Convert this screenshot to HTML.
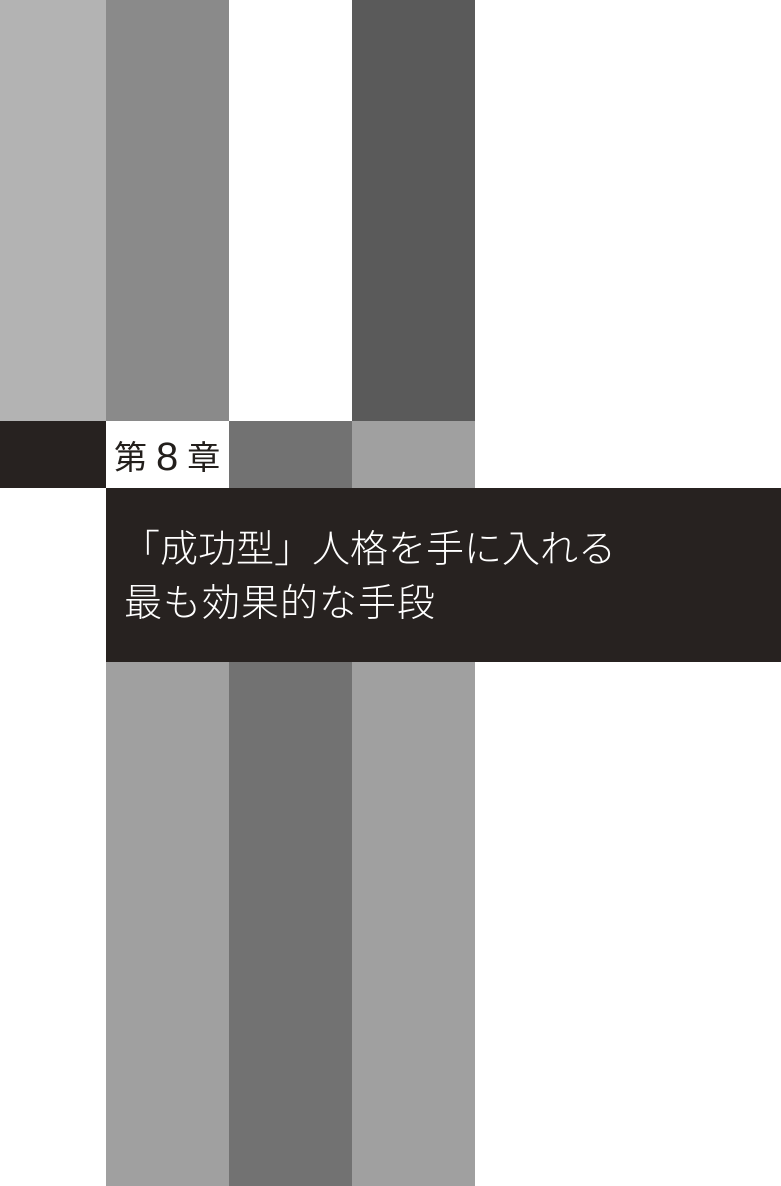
<!DOCTYPE html>
<html><head><meta charset="utf-8"><style>
html,body{margin:0;padding:0;background:#fff;}
#page{position:relative;width:781px;height:1186px;overflow:hidden;background:#fff;font-family:"Liberation Sans","Noto Sans CJK JP",sans-serif;}
.b{position:absolute;}
.t{position:absolute;white-space:nowrap;line-height:1;}
</style></head><body>
<div id="page">
<div class="b" style="left:0;top:0;width:106px;height:421px;background:#b3b3b3"></div>
<div class="b" style="left:106px;top:0;width:123px;height:421px;background:#8a8a8a"></div>
<div class="b" style="left:352px;top:0;width:123px;height:421px;background:#5a5a5a"></div>
<div class="b" style="left:0;top:421px;width:106px;height:67px;background:#272220"></div>
<div class="b" style="left:229px;top:421px;width:123px;height:67px;background:#727272"></div>
<div class="b" style="left:352px;top:421px;width:123px;height:67px;background:#a0a0a0"></div>
<div class="t" style="left:114px;top:436px;font-size:33px;color:#231f1c;">第<span style="font-size:40px;margin:0 9px 0 9px;position:relative;top:1px;font-weight:300">8</span>章</div>
<div class="b" style="left:106px;top:488px;width:675px;height:174px;background:#272220"></div>
<div class="t" style="left:122px;top:531px;font-size:38px;color:#fff;font-weight:300;">「成功型」人格を手に入れる</div>
<div class="t" style="left:124px;top:585px;font-size:38px;color:#fff;font-weight:300;letter-spacing:1px;">最も効果的な手段</div>
<div class="b" style="left:106px;top:662px;width:123px;height:524px;background:#a0a0a0"></div>
<div class="b" style="left:229px;top:662px;width:123px;height:524px;background:#727272"></div>
<div class="b" style="left:352px;top:662px;width:123px;height:524px;background:#a0a0a0"></div>
</div>
</body></html>
